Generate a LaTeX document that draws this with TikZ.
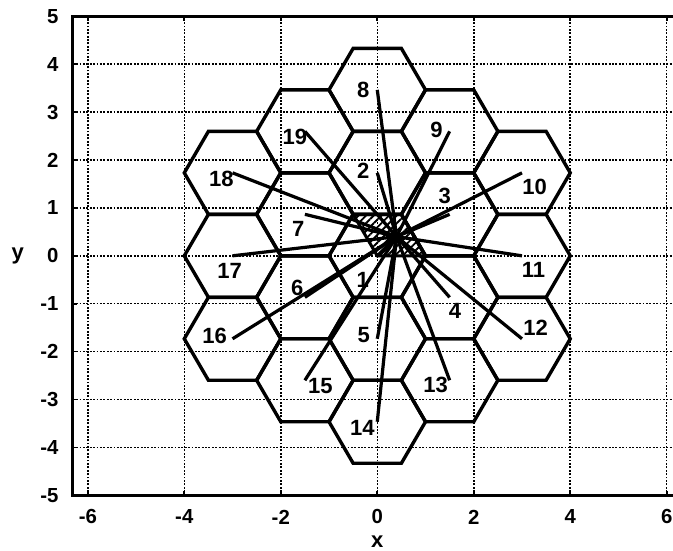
\documentclass[tikz,border=0pt]{standalone}
\usepackage{fontspec}
\setmainfont{Liberation Sans}
\usetikzlibrary{patterns.meta}

\begin{document}
\begin{tikzpicture}[x=1cm,y=0.993cm,
  hexcell/.style={draw,line width=2pt,line join=miter},
  spoke/.style={line width=1.9pt},
  gridline/.style={line width=0.9pt,dash pattern=on 1.1pt off 0.9pt},
  frameline/.style={line width=1.8pt},
  cellnum/.style={font=\fontsize{13}{15}\selectfont\bfseries,inner sep=0pt},
  ticknum/.style={font=\fontsize{12}{14}\selectfont\bfseries,inner sep=0pt}]
\useasboundingbox (-7.82,-6.16) rectangle (6.13,5.34);
\clip (-7.82,-6.16) rectangle (6.13,5.34);
\foreach \gx in {-6,-4,...,6} \draw[gridline] (\gx,-5) -- (\gx,5);
\foreach \gy in {-4,...,4} \draw[gridline] (-6.31,\gy) -- (6.31,\gy);
\draw[frameline] (6.4,5) -- (-6.31,5) -- (-6.31,-5) -- (6.4,-5);
\foreach \gy [count=\k] in {-5,...,5} {
  \draw[line width=1pt] (-6.31,\gy) -- ++(0.09,0);
  \node[ticknum,anchor=east] (ty\k) at (-6.6,\gy) {\gy};}
\foreach \gx [count=\k] in {-6,-4,...,6} {
  \draw[line width=1pt] (\gx,-5) -- ++(0,0.09) (\gx,5) -- ++(0,-0.09);
  \node[ticknum] (tx\k) at (\gx,-5.45) {\gx};}
\node[cellnum] (ylab) at (-7.45,0) {y};
\node[cellnum] (xlab) at (0,-5.96) {x};
\foreach \cx/\cy [count=\k] in {0/0,0/1.732,1.5/0.866,1.5/-0.866,0/-1.732,-1.5/-0.866,-1.5/0.866,
  0/3.464,1.5/2.598,3/1.732,3/0,3/-1.732,1.5/-2.598,0/-3.464,-1.5/-2.598,-3/-1.732,-3/0,-3/1.732,-1.5/2.598} {
  \coordinate (c\k) at (\cx,\cy);
  \draw[hexcell] (c\k) +(0:1) -- +(60:1) -- +(120:1) -- +(180:1) -- +(240:1) -- +(300:1) -- cycle;}
\draw[line width=1.8pt,pattern={Lines[angle=45,distance=3.2pt,line width=1.1pt]}] (0,0) -- (1,0) -- (0.5,0.866) -- (-0.5,0.866) -- cycle;
\coordinate (hub) at (0.4,0.4);
\foreach \k in {1,...,19} \draw[spoke] (hub) -- (c\k);
\foreach \k/\lx/\ly in {1/-0.30/-0.50,2/-0.29/1.78,3/1.40/1.24,4/1.61/-1.15,5/-0.28/-1.66,6/-1.66/-0.67,
  7/-1.64/0.56,8/-0.29/3.47,9/1.23/2.63,10/3.26/1.43,11/3.24/-0.29,12/3.28/-1.51,13/1.21/-2.69,
  14/-0.31/-3.60,15/-1.18/-2.71,16/-3.37/-1.67,17/-3.06/-0.31,18/-3.23/1.60,19/-1.71/2.48}
  \node[cellnum] (n\k) at (\lx,\ly) {\k};
\end{tikzpicture}
\end{document}
